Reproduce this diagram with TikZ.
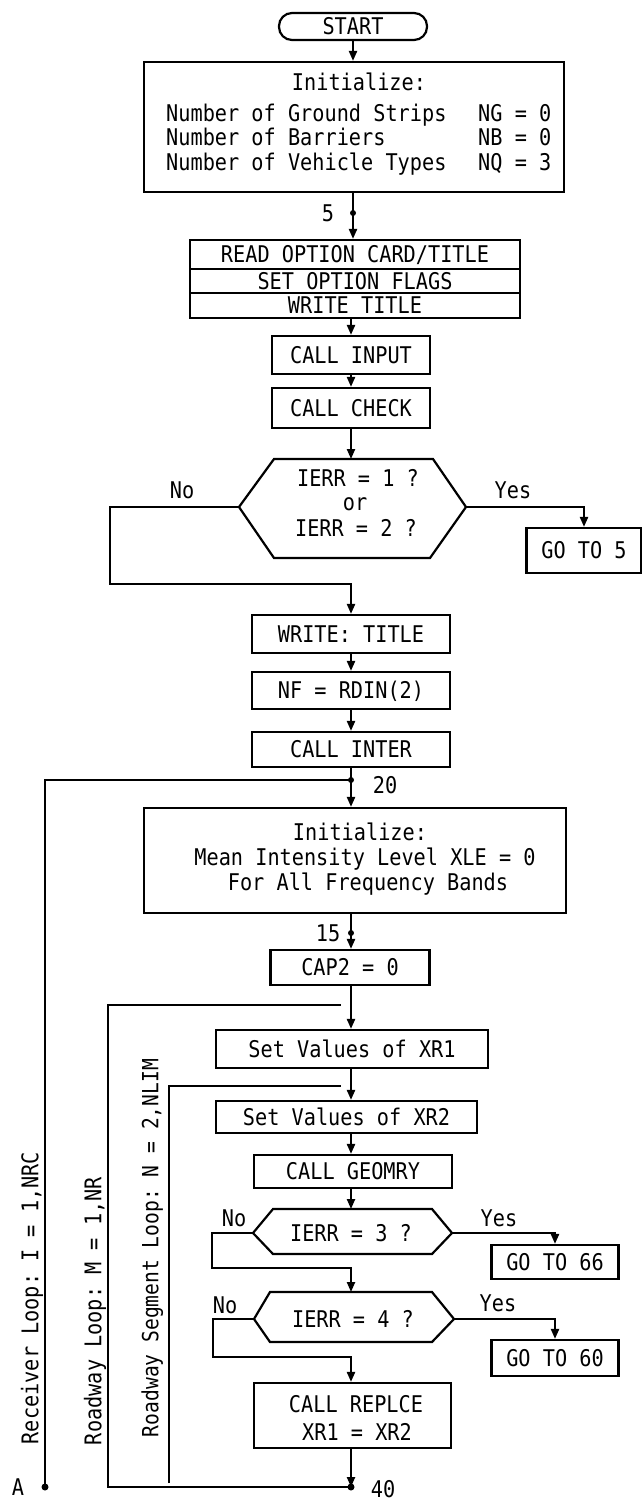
\documentclass[tikz,border=0pt]{standalone}
\usepackage{fontspec}
\setmonofont[FakeStretch=0.88]{DejaVu Sans Mono}
\usetikzlibrary{arrows.meta}
\begin{document}
\begin{tikzpicture}[x=1pt,y=-1pt,
  every node/.style={font=\fontsize{23}{26}\selectfont\ttfamily, inner sep=0pt, text height=16.8pt, text depth=0pt},
  ln/.style={line width=2.2pt},
  arr/.style={line width=2.2pt, -{Triangle[length=10pt,width=8pt]}},
  box/.style={draw, line width=2.2pt},
  term/.style={draw, line width=2.2pt, rounded corners=13pt}]
\fill[white] (0,0) rectangle (642,1500);
\useasboundingbox (0,0) rectangle (642,1500);

% ---- top part ----
\node[term, minimum width=148pt, minimum height=27pt] (start) at (353,26.5) {START};
\node[box, minimum width=420pt, minimum height=130pt] (init) at (354,127) {};
\node (initT) at (359,82) {Initialize:};
\node[anchor=west] (i1) at (166,113) {Number of Ground Strips};
\node[anchor=west] (i2) at (166,137) {Number of Barriers};
\node[anchor=west] (i3) at (166,162) {Number of Vehicle Types};
\node[anchor=west] (v1) at (478,113) {NG = 0};
\node[anchor=west] (v2) at (478,137) {NB = 0};
\node[anchor=west] (v3) at (478,162) {NQ = 3};

\coordinate (j5) at (353,213);
\node (l5) at (328,213) {5};

\node[box, minimum width=330pt, minimum height=29pt] (r1) at (355,254.5) {READ OPTION CARD/TITLE};
\node[box, minimum width=330pt, minimum height=24pt] (r2) at (355,281) {SET OPTION FLAGS};
\node[box, minimum width=330pt, minimum height=25pt] (r3) at (355,305.5) {WRITE TITLE};

\node[box, minimum width=158pt, minimum height=38pt] (input) at (351,355) {CALL INPUT};
\node[box, minimum width=158pt, minimum height=40pt] (check) at (351,408) {CALL CHECK};

% decision 1
\draw[ln] (239,507) -- (274,459) -- (433,459) -- (466,507) -- (430,558) -- (274,558) -- cycle;
\coordinate (h1L) at (239,507);
\coordinate (h1R) at (466,507);
\coordinate (h1T) at (351,459);
\node (h1a) at (358,478) {IERR = 1 ?};
\node (h1b) at (355,502) {or};
\node (h1c) at (356,528) {IERR = 2 ?};
\node (no1) at (182,490) {No};
\node (yes1) at (513,490) {Yes};
\node[box, minimum width=115pt, minimum height=45pt] (goto5) at (584,550.5) {GO TO 5};
\coordinate (n1) at (110,584);

\node[box, minimum width=198pt, minimum height=38pt] (write) at (351,634) {WRITE: TITLE};
\node[box, minimum width=198pt, minimum height=37pt] (nf) at (351,690.5) {NF = RDIN(2)};
\node[box, minimum width=198pt, minimum height=35pt] (inter) at (351,749.5) {CALL INTER};

\coordinate (j20) at (351,780);
\node (l20) at (385,785) {20};

\node[box, minimum width=422pt, minimum height=105pt] (init2) at (355,860.5) {};
\node (i2T) at (360,832) {Initialize:};
\node (i2a) at (365,857) {Mean Intensity Level XLE = 0};
\node (i2b) at (368,882) {For All Frequency Bands};

\coordinate (j15) at (351,933);
\node (l15) at (328,933) {15};
\node[box, minimum width=159pt, minimum height=35pt] (cap) at (350,967.5) {CAP2 = 0};

\node[box, minimum width=272pt, minimum height=38pt] (xr1) at (352,1049) {Set Values of XR1};
\node[box, minimum width=261pt, minimum height=32pt] (xr2) at (346.5,1117) {Set Values of XR2};
\node[box, minimum width=198pt, minimum height=33pt] (geo) at (353,1171.5) {CALL GEOMRY};

% decision 3
\draw[ln] (253,1233) -- (273,1209) -- (432,1209) -- (452,1233) -- (432,1254) -- (273,1254) -- cycle;
\coordinate (h3L) at (253,1233);
\coordinate (h3R) at (452,1233);
\coordinate (h3T) at (351,1209);
\node (h3t) at (351,1233) {IERR = 3 ?};
\node (no3) at (234,1218) {No};
\node (yes3) at (499,1218) {Yes};
\node[box, minimum width=127pt, minimum height=34pt] (goto66) at (555,1262) {GO TO 66};
\coordinate (n3) at (212,1268);

% decision 4
\draw[ln] (254,1319) -- (270,1292) -- (432,1292) -- (454,1319) -- (432,1342) -- (270,1342) -- cycle;
\coordinate (h4L) at (254,1319);
\coordinate (h4R) at (454,1319);
\coordinate (h4T) at (351,1292);
\node (h4t) at (353,1319) {IERR = 4 ?};
\node (no4) at (225,1305) {No};
\node (yes4) at (498,1303) {Yes};
\node[box, minimum width=127pt, minimum height=36pt] (goto60) at (555,1358) {GO TO 60};
\coordinate (n4) at (213,1357);

\node[box, minimum width=197pt, minimum height=65pt] (rep) at (352.5,1415.5) {};
\node (repa) at (356,1404) {CALL REPLCE};
\node (repb) at (357,1432) {XR1 = XR2};

\coordinate (j40) at (351,1487);
\node (l40) at (383,1489) {40};

% loops
\coordinate (rdT) at (341,1005);
\coordinate (rdTL) at (108,1005);
\coordinate (rdB) at (108,1487);
\coordinate (sgT) at (341,1086);
\coordinate (sgTL) at (169,1086);
\coordinate (sgB) at (169,1483);
\coordinate (rcT) at (45,780);
\coordinate (jA) at (45,1487);
\node (lA) at (18,1487) {A};

\node[rotate=90] (lrec) at (30,1298) {Receiver Loop: I = 1,NRC};
\node[rotate=90] (lroad) at (93,1311) {Roadway Loop: M = 1,NR};
\node[rotate=90, font=\fontsize{22.3}{26}\selectfont\ttfamily] (lseg) at (150,1248) {Roadway Segment Loop: N = 2,NLIM};

% ---- connectors ----
\draw[arr] (start.south) -- (start.south |- init.north);
\draw[ln] (j5 |- init.south) -- (j5);
\draw[arr] (j5) -- (j5 |- r1.north);
\draw[arr] (input.north |- r3.south) -- (input.north);
\draw[arr] (input.south) -- (check.north);
\draw[arr] (check.south) -- (h1T);
\draw[arr] (h1R) -| (goto5.north);
\draw[arr] (h1L) -| (n1) -| (write.north);
\draw[arr] (write.south) -- (nf.north);
\draw[arr] (nf.south) -- (inter.north);
\draw[arr] (inter.south) -- (init2.north -| inter.south);
\draw[arr] (init2.south -| j15) -- (cap.north -| j15);
\draw[arr] (cap.south -| j15) -- (xr1.north -| j15);
\draw[arr] (xr1.south -| j15) -- (xr2.north -| j15);
\draw[arr] (xr2.south -| j15) -- (geo.north -| j15);
\draw[arr] (geo.south -| j15) -- (h3T);
\draw[arr] (h3R) -| (goto66.north);
\draw[arr] (h3L) -| (n3) -| (h4T);
\draw[arr] (h4R) -| (goto60.north);
\draw[arr] (h4L) -| (n4) -| (rep.north -| j40);
\draw[arr] (rep.south -| j40) -- (j40);
\draw[ln] (j40) -- (rdB) -- (rdTL) -- (rdT);
\draw[ln] (sgB) -- (sgTL) -- (sgT);
\draw[ln] (jA) -- (rcT) -- (j20);

\fill (j5) circle[radius=3pt];
\fill (j20) circle[radius=3pt];
\fill (j15) circle[radius=3pt];
\fill (j40) circle[radius=3.5pt];
\fill (jA) circle[radius=3.5pt];
\end{tikzpicture}
\end{document}
